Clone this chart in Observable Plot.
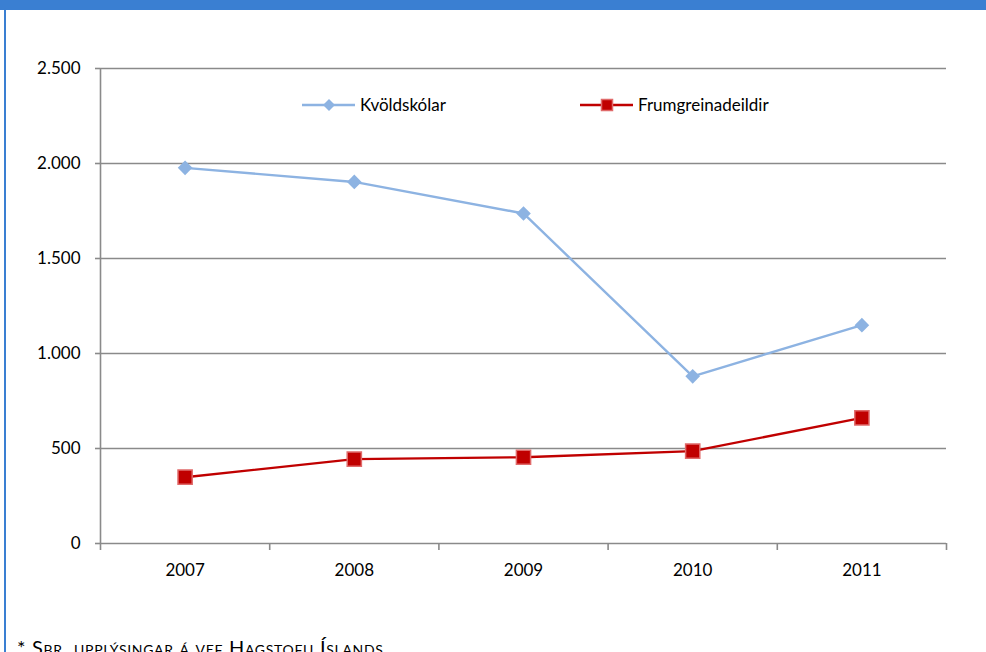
<!DOCTYPE html>
<html>
<head>
<meta charset="utf-8">
<script src="https://cdn.jsdelivr.net/npm/d3@7"></script>
<script src="https://cdn.jsdelivr.net/npm/@observablehq/plot@0.6"></script>
<style>
  html, body { margin: 0; padding: 0; background: #fff; }
  #wrap { position: relative; width: 986px; height: 652px; overflow: hidden; font-family: Lato, "Open Sans", sans-serif; }
  #bar { position: absolute; left: 0; top: 0; width: 986px; height: 10px; background: #3a7fd2; }
  #border { position: absolute; left: 4px; top: 10px; width: 2px; height: 642px; background: #3a7fd2; }
  #chart { position: absolute; left: 0; top: 0; }
  .leg { position: absolute; top: 94px; display: flex; align-items: center; font-size: 17px; color: #000; }
  .leg svg { display: block; }
  #foot { position: absolute; left: 17px; top: 635px; font-size: 20px; letter-spacing: 0.7px; font-variant: small-caps; color: #000; white-space: nowrap; }
</style>
</head>
<body>
<div id="wrap">
  <div id="chart"></div>
  <div id="bar"></div>
  <div id="border"></div>
  <div class="leg" id="leg1" style="left:302px"></div>
  <div class="leg" id="leg2" style="left:580px"></div>
  <div id="foot">* Sbr. upplýsingar á vef Hagstofu Íslands</div>
</div>
<script>
const years = [2007, 2008, 2009, 2010, 2011];
const kvoldskolar = [1977, 1903, 1737, 880, 1149];
const frumgreinadeildir = [349, 444, 454, 486, 661];
const seriesNames = ["Kvöldskólar", "Frumgreinadeildir"];
const yTicks = [0, 500, 1000, 1500, 2000, 2500];

const blue = "#8db3e2";
const red = "#c00000";
const redEdge = "#e06a6a";

const dataK = years.map((y, i) => ({year: y, value: kvoldskolar[i]}));
const dataF = years.map((y, i) => ({year: y, value: frumgreinadeildir[i]}));
const boundaries = [...years.map(y => y - 0.5), years[years.length - 1] + 0.5];

const fmt = d3.formatLocale({decimal: ",", thousands: ".", grouping: [3], currency: ["", ""]}).format(",");

const chart = Plot.plot({
  width: 986,
  height: 600,
  marginTop: 68,
  marginBottom: 57,
  marginLeft: 100,
  marginRight: 40,
  style: {fontFamily: "Lato, 'Open Sans', sans-serif", fontSize: "17px", color: "#000", background: "transparent"},
  x: {domain: [years[0] - 0.5, years[years.length - 1] + 0.5]},
  y: {domain: [0, 2500]},
  marks: [
    Plot.ruleY(yTicks, {stroke: "#8a8a8a", strokeWidth: 1.6}),
    Plot.axisY({ticks: yTicks, tickSize: 5, tickPadding: 15, tickFormat: fmt, stroke: "#8a8a8a", strokeOpacity: 1, strokeWidth: 1.6, label: null, fill: "#000"}),
    Plot.ruleX([years[0] - 0.5], {y1: 0, y2: 2500, stroke: "#8a8a8a", strokeWidth: 1.6}),
    Plot.axisX({ticks: boundaries, tickSize: 7, tickFormat: () => "", stroke: "#8a8a8a", strokeOpacity: 1, strokeWidth: 1.6, label: null}),
    Plot.axisX({ticks: years, tickSize: 0, tickPadding: 20, tickFormat: d => String(d), label: null, fill: "#000"}),
    Plot.line(dataK, {x: "year", y: "value", stroke: blue, strokeWidth: 2.4}),
    Plot.dot(dataK, {x: "year", y: "value", symbol: "diamond2", r: 6.6, fill: blue, stroke: "none"}),
    Plot.line(dataF, {x: "year", y: "value", stroke: red, strokeWidth: 2.4}),
    Plot.dot(dataF, {x: "year", y: "value", symbol: "square", r: 8, fill: red, stroke: redEdge, strokeWidth: 1.5})
  ]
});
document.getElementById("chart").appendChild(chart);

function legendItem(el, name, kind) {
  const svg = d3.create("svg").attr("width", 56).attr("height", 20);
  if (kind === "diamond") {
    svg.append("line").attr("x1", 0).attr("x2", 53).attr("y1", 10).attr("y2", 10).attr("stroke", blue).attr("stroke-width", 2.4);
    svg.append("path").attr("d", "M27,4L33,10L27,16L21,10Z").attr("fill", blue);
  } else {
    svg.append("line").attr("x1", 0).attr("x2", 53).attr("y1", 10).attr("y2", 10).attr("stroke", red).attr("stroke-width", 2.4);
    svg.append("rect").attr("x", 21.5).attr("y", 4.5).attr("width", 11).attr("height", 11).attr("fill", red).attr("stroke", redEdge).attr("stroke-width", 1.5);
  }
  el.appendChild(svg.node());
  const span = document.createElement("span");
  span.textContent = name;
  span.style.marginLeft = "2px";
  el.appendChild(span);
}
legendItem(document.getElementById("leg1"), seriesNames[0], "diamond");
legendItem(document.getElementById("leg2"), seriesNames[1], "square");
</script>
</body>
</html>
